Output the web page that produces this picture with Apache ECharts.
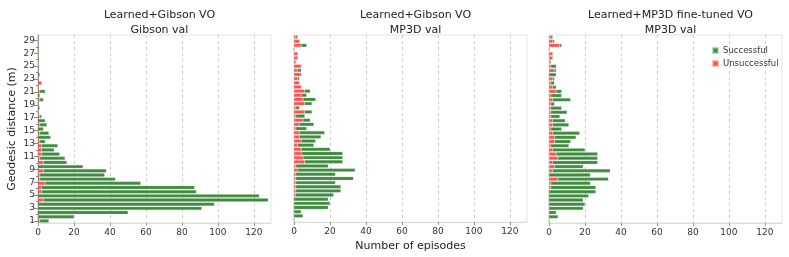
<!DOCTYPE html>
<html><head><meta charset="utf-8">
<script src="https://cdn.jsdelivr.net/npm/echarts@6/dist/echarts.min.js"></script>
<style>html,body{margin:0;padding:0;background:#fff}#c{width:789px;height:257px}</style>
</head><body><div id="c"></div>
<script>
// Histogram bin centres (m), shared by all panels
const binCenters = [1.00,1.65,2.30,2.95,3.60,4.24,4.89,5.54,6.19,6.83,7.48,8.13,8.78,9.43,10.07,10.72,11.37,12.02,12.66,13.31,13.96,14.61,15.26,15.90,16.55,17.20,17.85,18.49,19.14,19.79,20.44,21.09,21.73,22.38,23.03,23.68,24.32,24.97,25.62,26.27,26.91,27.56,28.21,28.86,29.51];
const panelTitles = ["Learned+Gibson VO\nGibson val","Learned+Gibson VO\nMP3D val","Learned+MP3D fine-tuned VO\nMP3D val"];
// Panel 1: Learned+Gibson VO on Gibson val
const gibsonSucc = [5,20,50,91,98,125,123,86,85,53,42,36,35,25,13,14,10,7,9,3,7,5,3,4,4,1,0,1,0,2,1,3,0,0,0,1,0,0,0,0,0,0,0,0,0];
const gibsonFail = [1,0,0,0,0,3,0,2,2,4,1,1,3,0,3,1,2,2,2,1,0,1,0,1,0,1,0,0,0,1,0,1,0,2,0,0,0,0,0,0,0,0,0,0,0];
// Panel 2: Learned+Gibson VO on MP3D val
const mp3dSucc = [0,5,4,19,20,19,21,25,25,22,32,22,32,18,21,22,23,16,9,8,12,14,6,8,4,5,4,2,4,7,3,3,0,0,1,0,2,0,0,0,0,0,3,0,1];
const mp3dFail = [0,0,0,0,0,0,1,1,1,1,1,1,2,1,6,5,4,4,2,4,3,3,1,3,5,1,6,1,6,5,4,6,4,3,2,4,2,4,1,2,2,0,4,3,1];
// Panel 3: Learned+MP3D fine-tuned VO on MP3D val
const ftSucc = [0,5,4,19,20,19,22,26,25,22,28,23,32,16,25,22,23,18,10,9,12,15,6,9,7,5,9,6,2,10,6,3,2,2,1,4,1,3,0,0,0,0,1,1,1];
const ftFail = [0,0,0,0,0,0,0,0,1,1,5,0,2,3,2,5,4,2,1,3,3,2,1,2,2,1,1,1,1,2,1,4,2,1,2,0,3,1,1,2,2,0,6,2,1];
const xTicks = [0,20,40,60,80,100,120];
const yMajor = [1,3,5,7,9,11,13,15,17,19,21,23,25,27,29];
const yMinor = [2,4,6,8,10,12,14,16,18,20,22,24,26,28];

const panels = [[gibsonSucc,gibsonFail],[mp3dSucc,mp3dFail],[ftSucc,ftFail]];
const lefts = [38,294,549], W = 233, TOP = 35, H = 188;
const YMIN = 0.68, YMAX = 29.83;
const F = 'DejaVu Sans';
const GREEN = 'rgba(25,110,25,0.82)', RED = 'rgba(255,30,30,0.78)';

const grid=[], xAxis=[], yAxis=[], series=[], title=[];
panels.forEach((p,k)=>{
  grid.push({left:lefts[k],top:TOP,width:W,height:H,show:true,borderColor:'#e3e3e3',borderWidth:1,backgroundColor:'transparent'});
  xAxis.push({type:'value',gridIndex:k,position:'bottom',min:0,max:129.5,interval:20,
    axisLine:{show:true,lineStyle:{color:'#dddddd'}},
    axisTick:{show:true,customValues:xTicks,length:3,lineStyle:{color:'#999'}},
    axisLabel:{customValues:xTicks,fontFamily:F,fontSize:9,color:'#333',margin:5},
    splitLine:{show:true,lineStyle:{color:'#d0d0d0',type:[3,3],width:1}},
    name:k===1?'Number of episodes':'',nameLocation:'middle',nameGap:18,
    nameTextStyle:{fontFamily:F,fontSize:11,color:'#222'}});
  yAxis.push({type:'category',gridIndex:k,position:'left',offset:0,data:binCenters.map(String),boundaryGap:true,
    axisLine:{show:false},axisTick:{show:false},axisLabel:{show:false},splitLine:{show:false}});
  yAxis.push({type:'value',gridIndex:k,position:'left',offset:0,min:YMIN,max:YMAX,
    axisLine:{show:k===0,lineStyle:{color:'#888'}},
    axisTick:{show:k===0,customValues:yMinor,length:2,lineStyle:{color:'#888'}},
    axisLabel:{show:false},splitLine:{show:false}});
  yAxis.push({type:'value',gridIndex:k,position:'left',offset:0,min:YMIN,max:YMAX,
    axisLine:{show:false},
    axisTick:{show:k===0,customValues:yMajor,length:4,lineStyle:{color:'#888'}},
    axisLabel:{show:k===0,customValues:yMajor,fontFamily:F,fontSize:9,color:'#333',margin:3},
    splitLine:{show:false},
    name:k===0?'Geodesic distance (m)':'',nameLocation:'middle',nameGap:20,
    nameTextStyle:{fontFamily:F,fontSize:11,color:'#222'}});
  series.push({name:'Unsuccessful',type:'bar',stack:'s'+k,xAxisIndex:k,yAxisIndex:3*k,
    data:p[1],barCategoryGap:'18%',itemStyle:{color:RED,borderColor:'rgba(255,150,150,0.6)',borderWidth:0.5},silent:true,animation:false});
  series.push({name:'Successful',type:'bar',stack:'s'+k,xAxisIndex:k,yAxisIndex:3*k,
    data:p[0],barCategoryGap:'18%',itemStyle:{color:GREEN,borderColor:'rgba(140,200,140,0.6)',borderWidth:0.5},silent:true,animation:false});
  title.push({text:panelTitles[k],left:lefts[k]+W/2,top:3,textAlign:'center',
    textStyle:{fontFamily:F,fontSize:11,fontWeight:'normal',color:'#222',lineHeight:15}});
});

const chart = echarts.init(document.getElementById('c'),null,{renderer:'canvas'});
chart.setOption({animation:false,title,grid,xAxis,yAxis,series,
  legend:{data:['Successful','Unsuccessful'],orient:'vertical',left:707,top:41,icon:'rect',itemWidth:5,itemHeight:5,itemGap:4,
    textStyle:{fontFamily:F,fontSize:8.5,color:'#333'},selectedMode:false}});
</script></body></html>
